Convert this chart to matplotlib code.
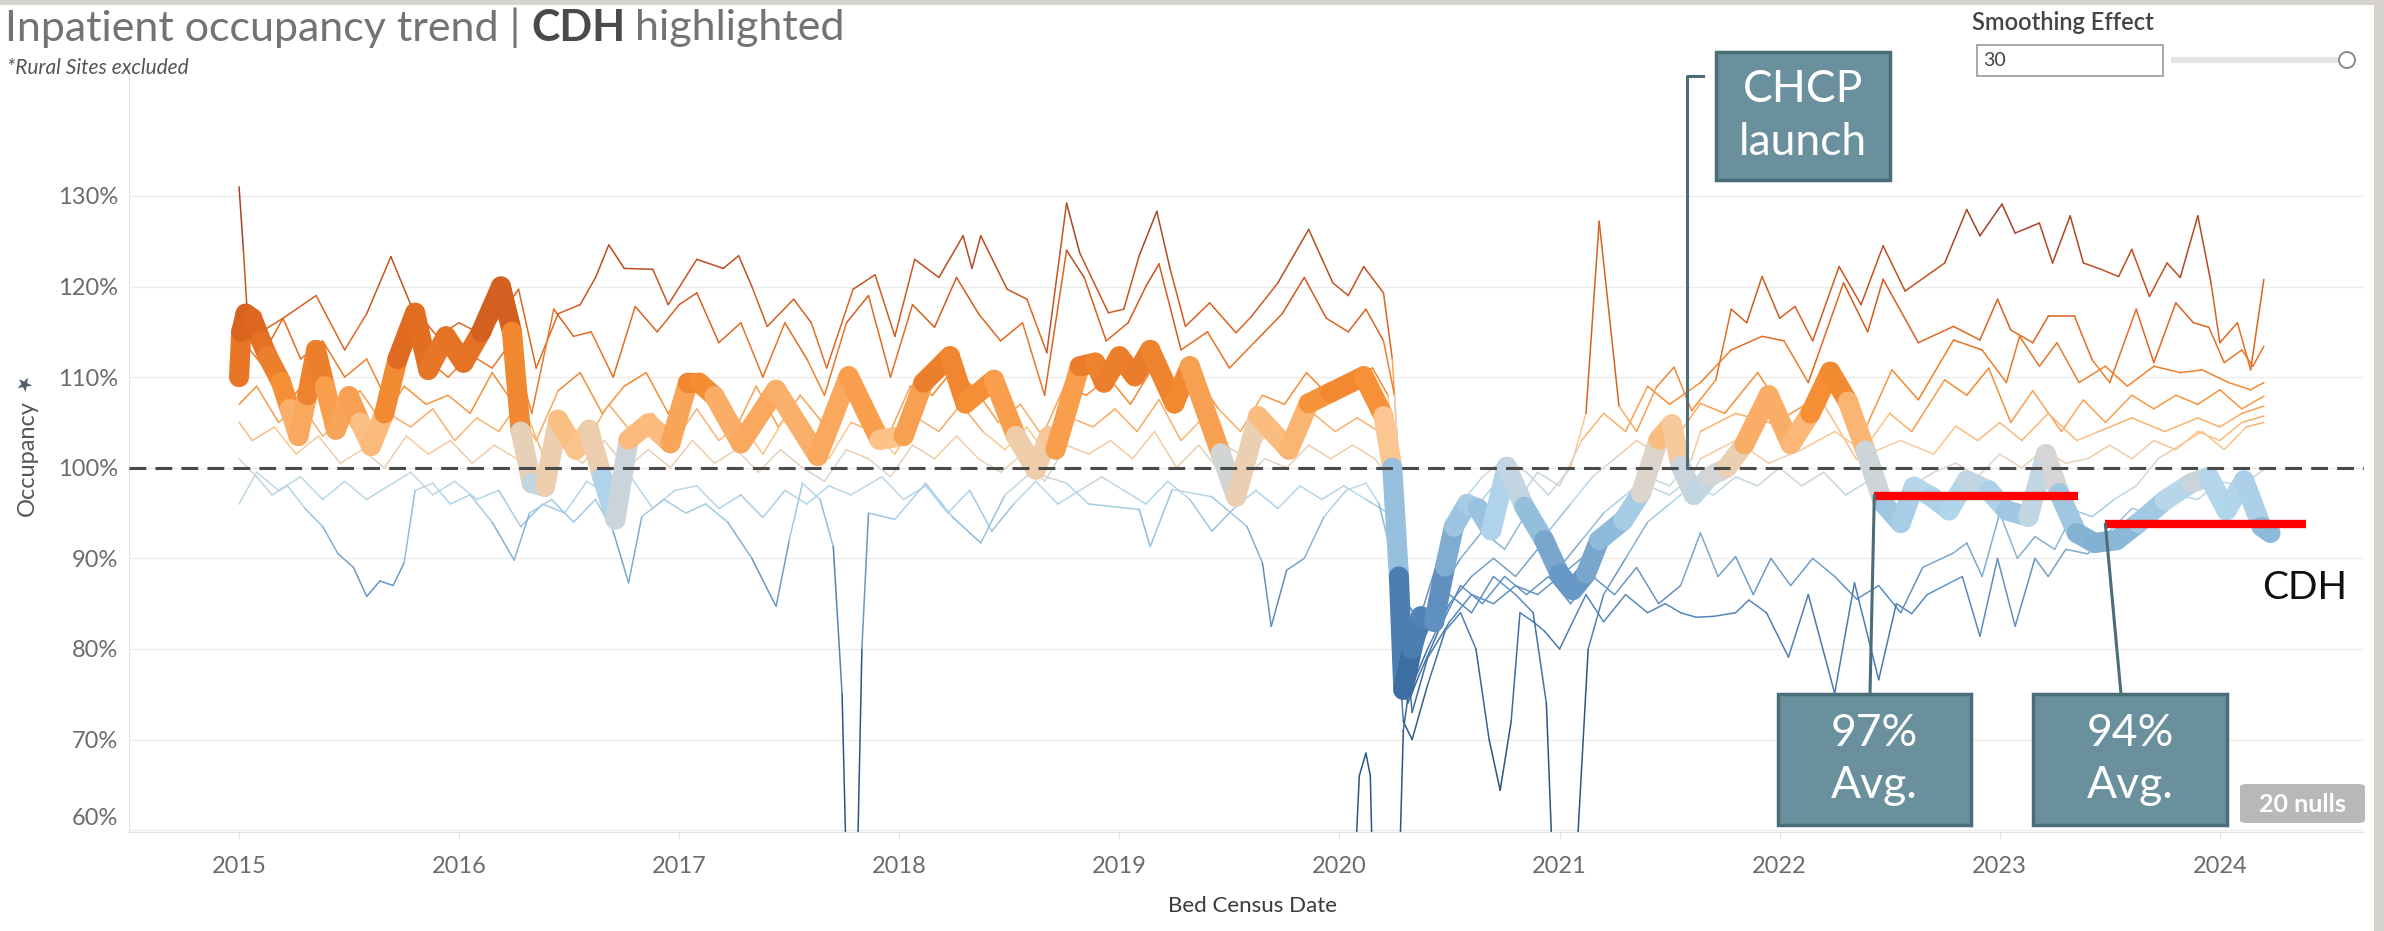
import numpy as np
import matplotlib
matplotlib.use("Agg")
import matplotlib.pyplot as plt
from matplotlib.collections import LineCollection
from matplotlib.colors import LinearSegmentedColormap, Normalize
from matplotlib.patches import Rectangle, FancyBboxPatch, Circle
from matplotlib.lines import Line2D
from matplotlib.transforms import IdentityTransform, ScaledTranslation
from matplotlib import font_manager

# --- data (decimal year, occupancy %) ---
CDH = [(2015.00, 110), (2015.01, 115), (2015.03, 117), (2015.06, 116.5), (2015.10, 114),
       (2015.13, 112.3), (2015.19, 109.5), (2015.23, 106.5), (2015.27, 103.5), (2015.31, 108),
       (2015.35, 113), (2015.39, 109), (2015.44, 104.2), (2015.50, 107.9), (2015.55, 105),
       (2015.60, 102.4), (2015.66, 106), (2015.72, 112), (2015.80, 117.1), (2015.86, 110.8),
       (2015.94, 114.5), (2016.02, 111.6), (2016.10, 115), (2016.19, 120), (2016.24, 115),
       (2016.28, 104), (2016.33, 98.3), (2016.39, 97.9), (2016.45, 105.3), (2016.53, 102),
       (2016.59, 104.2), (2016.65, 99), (2016.71, 94.3), (2016.77, 103.1), (2016.86, 104.9),
       (2016.96, 102.7), (2017.04, 109.4), (2017.09, 109.4), (2017.16, 107.9), (2017.28, 102.7),
       (2017.44, 108.6), (2017.63, 101.3), (2017.77, 110.1), (2017.91, 103.1), (2018.02, 103.5),
       (2018.11, 109.4), (2018.23, 112.3), (2018.30, 107.1), (2018.43, 109.7), (2018.53, 103.5),
       (2018.62, 99.8), (2018.68, 103.5), (2018.71, 102), (2018.82, 111.2), (2018.89, 111.6),
       (2018.93, 109.4), (2019.00, 112.3), (2019.07, 110.1), (2019.14, 113), (2019.25, 107.1),
       (2019.32, 111.2), (2019.46, 101.6), (2019.53, 96.8), (2019.63, 105.7), (2019.77, 102),
       (2019.86, 107.1), (2019.96, 108.3), (2020.11, 110.1), (2020.20, 105.7), (2020.24, 100),
       (2020.27, 88), (2020.29, 75.5), (2020.33, 80), (2020.37, 83.6), (2020.43, 83),
       (2020.48, 89.1), (2020.52, 93.5), (2020.58, 96), (2020.63, 95.5), (2020.69, 93.1),
       (2020.76, 100.1), (2020.84, 95.7), (2020.93, 92), (2021.00, 88.3), (2021.06, 86.5),
       (2021.12, 88.3), (2021.18, 92), (2021.29, 94.2), (2021.37, 97.2), (2021.45, 103.1),
       (2021.51, 104.8), (2021.55, 100.2), (2021.61, 97), (2021.68, 99), (2021.76, 100),
       (2021.84, 102.6), (2021.95, 108), (2022.05, 102.6), (2022.14, 106), (2022.23, 110.6),
       (2022.31, 107.3), (2022.39, 101.9), (2022.47, 96.1), (2022.55, 93.9), (2022.61, 97.9),
       (2022.69, 96.8), (2022.77, 95.3), (2022.85, 98.6), (2022.95, 97.5), (2023.03, 95.3),
       (2023.13, 94.6), (2023.21, 101.5), (2023.27, 97.2), (2023.35, 92.8), (2023.43, 91.7),
       (2023.53, 92), (2023.63, 93.9), (2023.75, 96.4), (2023.87, 98.3), (2023.95, 99),
       (2024.03, 95.3), (2024.11, 98.6), (2024.19, 93.5), (2024.23, 92.8)]

SITE_1 = [(2015.00, 131), (2015.02, 124), (2015.04, 116), (2015.10, 115), (2015.20, 116.5),
          (2015.35, 119), (2015.48, 113), (2015.58, 117), (2015.69, 123.3), (2015.78, 118),
          (2015.90, 114.5), (2016.00, 116), (2016.12, 114.5), (2016.27, 119.7), (2016.35, 111),
          (2016.45, 117), (2016.55, 118), (2016.62, 121), (2016.68, 124.6), (2016.75, 122),
          (2016.88, 121.9), (2016.95, 118), (2017.08, 123), (2017.20, 122), (2017.27, 123.4),
          (2017.33, 120), (2017.40, 115.6), (2017.52, 118.6), (2017.60, 116), (2017.67, 111),
          (2017.79, 119.7), (2017.89, 121.3), (2017.98, 114.5), (2018.07, 123), (2018.18, 121),
          (2018.29, 125.6), (2018.33, 122), (2018.37, 125.6), (2018.49, 119.7), (2018.58, 118.6),
          (2018.67, 112.7), (2018.76, 129.2), (2018.82, 123.7), (2018.95, 117.1), (2019.02, 117.5),
          (2019.09, 123.4), (2019.17, 128.3), (2019.23, 122), (2019.30, 115.6), (2019.41, 118.2),
          (2019.53, 114.9), (2019.60, 116.7), (2019.72, 120.4), (2019.86, 126.3), (2019.97, 120.4),
          (2020.04, 119), (2020.11, 122.2), (2020.20, 119.3), (2020.24, 112), (2020.27, 100),
          (2020.31, 85), (2020.36, 83), (2020.45, 90), (2020.55, 96), (2020.65, 99),
          (2020.75, 101), (2020.85, 99.5), (2020.95, 97), (2021.05, 100), (2021.12, 106),
          (2021.18, 127.2), (2021.27, 106.8), (2021.35, 104), (2021.44, 108.9), (2021.52, 111.1),
          (2021.60, 106.3), (2021.71, 109.7), (2021.78, 117.5), (2021.85, 116), (2021.92, 121.1),
          (2022.00, 116.5), (2022.07, 117.8), (2022.15, 114), (2022.27, 122.2), (2022.37, 118),
          (2022.47, 124.5), (2022.57, 119.5), (2022.75, 122.6), (2022.85, 128.5), (2022.91, 125.6),
          (2023.01, 129.1), (2023.07, 125.9), (2023.18, 127), (2023.24, 122.6), (2023.32, 127.8),
          (2023.38, 122.6), (2023.46, 121.9), (2023.54, 121.1), (2023.60, 124.1), (2023.68, 118.9),
          (2023.76, 122.6), (2023.82, 121), (2023.90, 127.8), (2023.96, 120.4), (2024.00, 113.8),
          (2024.08, 116), (2024.14, 110.8), (2024.20, 120.8)]

SITE_2 = [(2015.00, 113), (2015.06, 117), (2015.12, 113), (2015.20, 116.5), (2015.28, 112),
          (2015.38, 114), (2015.48, 110), (2015.58, 112), (2015.66, 108), (2015.75, 116),
          (2015.85, 112), (2015.95, 110), (2016.05, 112.5), (2016.15, 111), (2016.24, 114),
          (2016.33, 106), (2016.43, 117.5), (2016.52, 114.5), (2016.60, 115), (2016.70, 110),
          (2016.80, 117.8), (2016.90, 115), (2017.00, 118), (2017.08, 119.3), (2017.18, 113.8),
          (2017.28, 116), (2017.38, 110), (2017.48, 116), (2017.58, 112), (2017.66, 108),
          (2017.76, 116), (2017.86, 119), (2017.96, 110), (2018.06, 118), (2018.16, 115.5),
          (2018.26, 121), (2018.36, 117), (2018.46, 114), (2018.56, 116), (2018.66, 108),
          (2018.76, 124), (2018.84, 121), (2018.94, 114), (2019.04, 116), (2019.12, 120),
          (2019.18, 122.5), (2019.28, 113), (2019.40, 115), (2019.50, 111), (2019.62, 114),
          (2019.74, 117), (2019.84, 121), (2019.94, 116.5), (2020.04, 115), (2020.12, 117.5),
          (2020.20, 114), (2020.25, 108), (2020.29, 92), (2020.33, 80), (2020.40, 84),
          (2020.50, 92), (2020.60, 95), (2020.70, 98), (2020.80, 96), (2020.90, 99.5),
          (2021.00, 98), (2021.10, 103), (2021.20, 106), (2021.30, 104), (2021.40, 109),
          (2021.50, 107), (2021.64, 109.4), (2021.78, 113), (2021.92, 114.5), (2022.02, 114),
          (2022.13, 109.4), (2022.29, 120.4), (2022.40, 115), (2022.47, 120.8), (2022.63, 113.8),
          (2022.79, 115.6), (2022.91, 114.1), (2022.99, 118.6), (2023.05, 115.2), (2023.15, 113.8),
          (2023.22, 116.7), (2023.34, 116.7), (2023.42, 111.9), (2023.50, 109.4), (2023.62, 117.5),
          (2023.70, 111.6), (2023.80, 118.2), (2023.88, 116), (2023.95, 115.5), (2024.02, 111.6),
          (2024.10, 113), (2024.15, 111.2), (2024.20, 113.4)]

SITE_3 = [(2015.00, 110), (2015.05, 113), (2015.15, 110), (2015.25, 108), (2015.35, 111),
          (2015.45, 106), (2015.55, 108.5), (2015.65, 105), (2015.75, 109), (2015.85, 107),
          (2015.95, 108), (2016.05, 106), (2016.15, 110.5), (2016.25, 107), (2016.35, 103),
          (2016.45, 108.5), (2016.55, 110.5), (2016.65, 106), (2016.75, 109), (2016.85, 110.5),
          (2016.95, 106), (2017.05, 110), (2017.15, 107), (2017.25, 104), (2017.35, 109),
          (2017.45, 104.5), (2017.55, 108), (2017.65, 105), (2017.75, 109), (2017.85, 107),
          (2017.95, 103.5), (2018.05, 109), (2018.15, 108), (2018.25, 111), (2018.35, 108.5),
          (2018.45, 105), (2018.55, 107), (2018.65, 103.5), (2018.75, 109), (2018.85, 108),
          (2018.95, 110), (2019.05, 107), (2019.15, 111), (2019.25, 106), (2019.35, 110),
          (2019.45, 106.5), (2019.55, 104), (2019.65, 108), (2019.75, 107), (2019.85, 110.5),
          (2019.95, 108), (2020.05, 110), (2020.15, 111), (2020.22, 108), (2020.27, 96),
          (2020.31, 78), (2020.36, 80), (2020.45, 86), (2020.55, 90), (2020.65, 93),
          (2020.75, 91), (2020.85, 95), (2020.95, 93), (2021.05, 96), (2021.15, 99),
          (2021.25, 101), (2021.35, 103), (2021.45, 101.5), (2021.55, 104), (2021.64, 107.1),
          (2021.75, 106), (2021.90, 110.5), (2022.03, 105.7), (2022.23, 108.6), (2022.38, 103.8),
          (2022.51, 110.8), (2022.63, 107.5), (2022.79, 114.1), (2022.92, 113), (2023.03, 109.4),
          (2023.09, 114.5), (2023.18, 111.2), (2023.26, 113.8), (2023.36, 109.4), (2023.48, 111.2),
          (2023.58, 109), (2023.70, 111.2), (2023.82, 110.5), (2023.92, 110.8), (2024.04, 109.4),
          (2024.14, 108.6), (2024.20, 109.4)]

SITE_4 = [(2015.00, 107), (2015.08, 109), (2015.18, 105), (2015.28, 107), (2015.38, 103.5),
          (2015.48, 105.5), (2015.58, 102.5), (2015.68, 106), (2015.78, 104.5), (2015.88, 106.5),
          (2015.98, 103), (2016.08, 105.5), (2016.18, 104), (2016.28, 107.5), (2016.38, 101.5),
          (2016.48, 104.5), (2016.58, 103), (2016.68, 107), (2016.78, 104), (2016.88, 106),
          (2016.98, 103), (2017.08, 106.5), (2017.18, 103), (2017.28, 105), (2017.38, 101.5),
          (2017.48, 105.5), (2017.58, 103), (2017.68, 101), (2017.78, 105), (2017.88, 104),
          (2017.98, 101.5), (2018.08, 105.5), (2018.18, 104), (2018.28, 107), (2018.38, 104),
          (2018.48, 102), (2018.58, 104.5), (2018.68, 101), (2018.78, 105.5), (2018.88, 104.5),
          (2018.98, 106.5), (2019.08, 104), (2019.18, 107.5), (2019.28, 103), (2019.38, 105.5),
          (2019.48, 102.5), (2019.58, 101), (2019.68, 104), (2019.78, 103), (2019.88, 106),
          (2019.98, 104), (2020.08, 105.5), (2020.18, 104), (2020.24, 101), (2020.29, 88),
          (2020.33, 76), (2020.40, 80), (2020.50, 85), (2020.60, 88), (2020.70, 90),
          (2020.80, 88), (2020.90, 91), (2021.00, 89), (2021.10, 92), (2021.20, 95),
          (2021.30, 97), (2021.40, 99), (2021.50, 98), (2021.60, 101), (2021.64, 104),
          (2021.80, 106), (2021.95, 105), (2022.05, 104), (2022.20, 107), (2022.35, 100.9),
          (2022.50, 106), (2022.60, 104), (2022.75, 109.7), (2022.85, 108), (2022.95, 111),
          (2023.05, 105), (2023.15, 108.5), (2023.28, 104), (2023.38, 107.5), (2023.48, 105),
          (2023.60, 108), (2023.70, 106.5), (2023.80, 108), (2023.90, 107), (2024.00, 108.6),
          (2024.10, 106.5), (2024.20, 107.9)]

SITE_5 = [(2015.00, 105), (2015.06, 103), (2015.16, 104.5), (2015.26, 101.5), (2015.36, 103.5),
          (2015.46, 100.5), (2015.56, 102), (2015.66, 100), (2015.76, 103.5), (2015.86, 101.5),
          (2015.96, 103), (2016.06, 100.5), (2016.16, 102.5), (2016.26, 101), (2016.36, 99),
          (2016.46, 102.5), (2016.56, 100.5), (2016.66, 103), (2016.76, 100), (2016.86, 102),
          (2016.96, 100), (2017.06, 103), (2017.16, 100.5), (2017.26, 102), (2017.36, 99.5),
          (2017.46, 102), (2017.56, 100), (2017.66, 98.5), (2017.76, 102), (2017.86, 101),
          (2017.96, 99), (2018.06, 102.5), (2018.16, 101), (2018.26, 103.5), (2018.36, 101),
          (2018.46, 99.5), (2018.56, 101.5), (2018.66, 98.5), (2018.76, 102.5), (2018.86, 101.5),
          (2018.96, 103), (2019.06, 101), (2019.16, 104), (2019.26, 100), (2019.36, 102.5),
          (2019.46, 99.5), (2019.56, 98.5), (2019.66, 101), (2019.76, 100), (2019.86, 102.5),
          (2019.96, 101), (2020.06, 102.5), (2020.16, 101), (2020.22, 99), (2020.28, 86),
          (2020.33, 73), (2020.40, 79), (2020.50, 83), (2020.60, 86), (2020.70, 85),
          (2020.80, 87), (2020.90, 86), (2021.00, 88), (2021.10, 90), (2021.20, 93),
          (2021.30, 96), (2021.40, 98), (2021.50, 97), (2021.60, 99), (2021.64, 101),
          (2021.80, 103), (2021.95, 100.5), (2022.10, 102), (2022.25, 104), (2022.40, 101.5),
          (2022.55, 103), (2022.70, 101.5), (2022.80, 104.6), (2022.90, 103), (2023.00, 105),
          (2023.10, 103), (2023.22, 106), (2023.35, 103), (2023.45, 104), (2023.60, 105.5),
          (2023.75, 104), (2023.90, 105.5), (2024.00, 104.5), (2024.10, 106), (2024.20, 106.8)]

SITE_6 = [(2015.00, 96), (2015.08, 99.5), (2015.18, 97.5), (2015.28, 99), (2015.38, 96.5),
          (2015.48, 98.5), (2015.58, 96.5), (2015.68, 98), (2015.78, 99.5), (2015.88, 97),
          (2015.98, 98.5), (2016.08, 96.5), (2016.18, 97.5), (2016.28, 93.5), (2016.38, 96),
          (2016.48, 95), (2016.58, 98.5), (2016.68, 97), (2016.78, 99), (2016.88, 95.5),
          (2016.98, 97.5), (2017.08, 98), (2017.18, 95.5), (2017.28, 97), (2017.38, 94.5),
          (2017.48, 97.5), (2017.58, 96), (2017.68, 98), (2017.78, 97), (2017.92, 99),
          (2018.02, 96.5), (2018.12, 98), (2018.22, 95), (2018.32, 97.5), (2018.42, 93),
          (2018.52, 96), (2018.62, 98.5), (2018.72, 96), (2018.82, 97.5), (2018.92, 99),
          (2019.02, 97.5), (2019.12, 96), (2019.22, 98.5), (2019.32, 96.5), (2019.42, 93),
          (2019.52, 95.5), (2019.62, 97.5), (2019.72, 95.5), (2019.82, 98), (2019.92, 96.5),
          (2020.02, 98), (2020.12, 96.5), (2020.22, 95), (2020.27, 85), (2020.31, 74),
          (2020.36, 77), (2020.45, 82), (2020.55, 87), (2020.65, 85), (2020.75, 88),
          (2020.85, 86), (2020.95, 88), (2021.05, 85), (2021.15, 88), (2021.25, 86),
          (2021.35, 89), (2021.45, 85), (2021.55, 87), (2021.64, 92.8), (2021.72, 88),
          (2021.80, 90.2), (2021.88, 86), (2021.96, 90), (2022.05, 87), (2022.15, 90),
          (2022.25, 88), (2022.35, 85.5), (2022.45, 87), (2022.55, 84), (2022.65, 89),
          (2022.79, 90.6), (2022.85, 91.7), (2022.92, 88), (2023.00, 95), (2023.08, 90),
          (2023.16, 92.4), (2023.25, 91), (2023.34, 95.3), (2023.42, 94.6), (2023.52, 96.5),
          (2023.62, 98), (2023.72, 101), (2023.82, 102.5), (2023.92, 104), (2024.02, 102),
          (2024.12, 104.5), (2024.20, 105)]

SITE_7 = [(2015.00, 101), (2015.08, 99), (2015.15, 97), (2015.22, 98), (2015.30, 95.5),
          (2015.38, 93.5), (2015.45, 90.5), (2015.52, 89), (2015.58, 85.8), (2015.64, 87.5),
          (2015.70, 87), (2015.75, 89.5), (2015.80, 97.5), (2015.88, 98.3), (2015.96, 96),
          (2016.05, 97), (2016.15, 94), (2016.25, 89.8), (2016.32, 95), (2016.42, 96.5),
          (2016.52, 94), (2016.62, 96.5), (2016.70, 93), (2016.77, 87.3), (2016.83, 94.6),
          (2016.93, 96.5), (2017.03, 95), (2017.12, 96), (2017.22, 94), (2017.33, 90),
          (2017.44, 84.7), (2017.50, 92), (2017.56, 98.3), (2017.64, 96.5), (2017.70, 91.3),
          (2017.74, 75), (2017.77, 45), (2017.80, 45), (2017.83, 80), (2017.86, 95),
          (2017.98, 94.3), (2018.12, 98.3), (2018.24, 94.6), (2018.37, 91.7), (2018.48, 97),
          (2018.60, 99.5), (2018.76, 98.3), (2018.86, 96), (2019.09, 95.4), (2019.14, 91.3),
          (2019.24, 97.6), (2019.42, 96.8), (2019.58, 93.5), (2019.65, 89.5), (2019.69, 82.5),
          (2019.76, 88.7), (2019.84, 90), (2019.93, 94.6), (2020.03, 97.5), (2020.12, 98.3),
          (2020.18, 96), (2020.24, 90), (2020.29, 72), (2020.33, 70), (2020.40, 76),
          (2020.48, 82), (2020.55, 84), (2020.62, 80), (2020.68, 70), (2020.73, 64.4),
          (2020.78, 72), (2020.82, 84), (2020.88, 83), (2020.93, 82), (2021.00, 80),
          (2021.06, 83), (2021.12, 86), (2021.20, 83), (2021.30, 86), (2021.40, 84),
          (2021.48, 85), (2021.55, 84), (2021.62, 83.5), (2021.70, 83.6), (2021.80, 84),
          (2021.86, 85.4), (2021.94, 84), (2022.04, 79.1), (2022.13, 86), (2022.25, 75.1),
          (2022.34, 87.3), (2022.45, 76.6), (2022.53, 85), (2022.60, 83.9), (2022.67, 86),
          (2022.75, 87), (2022.83, 88), (2022.91, 81.4), (2022.99, 90), (2023.07, 82.5),
          (2023.16, 90), (2023.22, 88), (2023.30, 91), (2023.40, 90.5), (2023.50, 93),
          (2023.60, 95.5), (2023.70, 95), (2023.80, 97), (2023.90, 96.5), (2024.00, 98.5),
          (2024.10, 98), (2024.20, 99.8)]

SITE_8 = [(2020.05, 45), (2020.09, 66), (2020.12, 68.5), (2020.14, 66), (2020.16, 45),
          (2020.26, 45), (2020.29, 71), (2020.33, 78), (2020.40, 82), (2020.50, 86),
          (2020.60, 84), (2020.70, 88), (2020.80, 86), (2020.88, 84), (2020.94, 74),
          (2020.97, 55), (2021.00, 40), (2021.05, 40), (2021.08, 58), (2021.13, 80),
          (2021.20, 86), (2021.30, 90), (2021.40, 94), (2021.50, 96), (2021.60, 98),
          (2021.70, 97), (2021.80, 99), (2021.90, 98), (2022.00, 100), (2022.10, 98),
          (2022.20, 99.5), (2022.30, 97), (2022.40, 98.5), (2022.50, 96.5), (2022.60, 98),
          (2022.70, 99.5), (2022.80, 100.5), (2022.90, 99), (2023.00, 101.5), (2023.10, 100),
          (2023.20, 102), (2023.30, 100.5), (2023.40, 101), (2023.50, 102.5), (2023.60, 101),
          (2023.70, 103), (2023.80, 102), (2023.90, 104), (2024.00, 103), (2024.10, 105),
          (2024.20, 105.7)]

OTHER_SITES = [SITE_1, SITE_2, SITE_3, SITE_4, SITE_5, SITE_6, SITE_7, SITE_8]

YEARS = [2015, 2016, 2017, 2018, 2019, 2020, 2021, 2022, 2023, 2024]
Y_TICKS = [60, 70, 80, 90, 100, 110, 120, 130]
TARGET = 100
CHCP_LAUNCH = 2021.58
AVG_START = [2022.43, 2023.48]
AVG_END = [2023.355, 2024.39]
AVG_VALUE = [96.9, 93.75]
AVG_LABELS = ["97%\nAvg.", "94%\nAvg."]

# --- figure ---
W, H = 2384, 931
names = {f.name for f in font_manager.fontManager.ttflist}
TAB = "Lato" if "Lato" in names else "DejaVu Sans"
NARROW = "Liberation Sans Narrow" if "Liberation Sans Narrow" in names else TAB


def fx(x):
    return x / W


def fy(y):
    return 1 - y / H


fig = plt.figure(figsize=(W / 100, H / 100), dpi=100)
fig.patch.set_facecolor("white")
ax = fig.add_axes([fx(129), fy(832), (2364 - 129) / W, (832 - 60) / H])
ax.set_xlim(2014.5, 2024.655)
ax.set_ylim(59.8, 145)

cmap = LinearSegmentedColormap.from_list("orange_blue", [
    (0.0, "#2a5783"), (0.133, "#3d6fa3"), (0.25, "#5a8abd"), (0.367, "#84b2d4"),
    (0.45, "#b3d6ec"), (0.5, "#dcd5ce"), (0.55, "#fcc690"), (0.633, "#f69035"),
    (0.75, "#df681f"), (0.867, "#bf4f22"), (1.0, "#9a3c22")])
norm = Normalize(70, 130)


def colored_line(points, lw, z):
    pts = np.array(points, dtype=float)
    segs = np.stack([pts[:-1], pts[1:]], axis=1)
    mid = (pts[:-1, 1] + pts[1:, 1]) / 2
    lc = LineCollection(segs, colors=cmap(norm(mid)), linewidths=lw,
                        capstyle="round", joinstyle="round", zorder=z)
    ax.add_collection(lc)


for site in OTHER_SITES:
    colored_line(site, 1.1, 2)
colored_line(CDH, 14.5, 4)

ax.axhline(TARGET, color="#4a4a4a", lw=2.2, dashes=(5.5, 3), zorder=5)
ax.hlines(AVG_VALUE, AVG_START, AVG_END, color="#ff0000", lw=6, zorder=6)

# axes styling
ax.set_yticks(Y_TICKS)
ax.set_yticklabels([f"{v}%" for v in Y_TICKS])
ax.set_xticks(YEARS)
ax.set_xticklabels([str(y) for y in YEARS])
ax.grid(axis="y", color="#ededed", lw=1)
ax.set_axisbelow(True)
for s in ["top", "right"]:
    ax.spines[s].set_visible(False)
ax.spines["left"].set_color("#e3e3e3")
ax.spines["bottom"].set_color("#e3e3e3")
ax.tick_params(axis="y", length=0, pad=8, labelsize=17, labelcolor="#6b6b6b")
ax.tick_params(axis="x", length=5, color="#e3e3e3", pad=12, labelsize=17,
               labelcolor="#6b6b6b")
for lab in ax.get_xticklabels() + ax.get_yticklabels():
    lab.set_family(TAB)
# the bottom label sits inside the pane, as in the dashboard
low = ax.get_yticklabels()[0]
low.set_transform(low.get_transform() + ScaledTranslation(0, 14 / 100, fig.dpi_scale_trans))

# --- text ---
fig.text(fx(1252), fy(906), "Bed Census Date", ha="center", va="center",
         fontsize=16, color="#3a3a3a", family=TAB)
fig.text(fx(27), fy(458), "Occupancy", rotation=90, ha="center", va="center",
         fontsize=17, color="#555555", family=TAB)
fig.text(fx(25), fy(384), "\u2605", rotation=45, ha="center", va="center",
         fontsize=14, color="#4d5a66", family="DejaVu Sans")

t1 = fig.text(fx(5), fy(28), "Inpatient occupancy trend |", ha="left", va="center",
              fontsize=31, color="#737373", family=NARROW)
fig.canvas.draw()
r = fig.canvas.get_renderer()
x_next = t1.get_window_extent(r).x1 + 11
t2 = fig.text(x_next / W, fy(28), "CDH", ha="left", va="center", fontsize=31,
              color="#4a4a4a", family=NARROW, fontweight="bold")
fig.canvas.draw()
x_next = t2.get_window_extent(r).x1 + 9
fig.text(x_next / W, fy(28), "highlighted", ha="left", va="center", fontsize=31,
         color="#737373", family=NARROW)
fig.text(fx(7), fy(68), "*Rural Sites excluded", ha="left", va="center",
         fontsize=15, color="#555555", style="italic", family=NARROW)

# smoothing widget
fig.text(fx(1972), fy(22), "Smoothing Effect", ha="left", va="center",
         fontsize=17, color="#444444", family=TAB, fontweight="semibold")
fig.add_artist(Rectangle((fx(1977), fy(76)), 186 / W, 31 / H, transform=fig.transFigure,
                         facecolor="white", edgecolor="#9a9a9a", lw=1.2))
fig.text(fx(1983), fy(61), "30", ha="left", va="center", fontsize=14,
         color="#444444", family=TAB)
fig.add_artist(Line2D([fx(2171), fx(2338)], [fy(60), fy(60)], transform=fig.transFigure,
                      color="#e4e4e4", lw=4.5, solid_capstyle="butt"))
fig.add_artist(Circle((2347, H - 60), 8, transform=IdentityTransform(),
                      facecolor="white", edgecolor="#8a8a8a", lw=1.4))

BOX_FACE = "#69909c"
BOX_EDGE = "#4b6d78"


def box(x0, y0, x1, y1, text, size):
    fig.add_artist(Rectangle((fx(x0), fy(y1)), (x1 - x0) / W, (y1 - y0) / H,
                             transform=fig.transFigure, facecolor=BOX_FACE,
                             edgecolor=BOX_EDGE, lw=2.5, zorder=10))
    fig.text(fx((x0 + x1) / 2), fy((y0 + y1) / 2), text, ha="center", va="center",
             fontsize=size, color="white", family=TAB, linespacing=1.35, zorder=11)


def data_px(x, y):
    px, py = ax.transData.transform((x, y))
    return px, H - py


def leader(xs, ys):
    fig.add_artist(Line2D([fx(v) for v in xs], [fy(v) for v in ys],
                          transform=fig.transFigure, color=BOX_EDGE, lw=2.2, zorder=9))


box(1716, 52, 1890, 180, "CHCP\nlaunch", 32)
lx, ly = data_px(CHCP_LAUNCH, TARGET)
leader([1703, lx, lx], [76, 76, ly])

for i, (bx0, bx1) in enumerate([(1778, 1971), (2033, 2227)]):
    box(bx0, 694, bx1, 825, AVG_LABELS[i], 32)
    px, py = data_px(AVG_START[i], AVG_VALUE[i])
    top_x = 1870 if i == 0 else 2121
    leader([top_x, px], [694, py])

fig.text(fx(2305), fy(588), "CDH", ha="center", va="center", fontsize=28,
         color="#111111", family=TAB)

fig.add_artist(FancyBboxPatch((fx(2240), fy(823)), 125 / W, 39 / H,
                              boxstyle="round,pad=0,rounding_size=0.003",
                              transform=fig.transFigure, facecolor="#b8b8b8",
                              edgecolor="none", zorder=10))
fig.text(fx(2302), fy(804), "20 nulls", ha="center", va="center", fontsize=18,
         color="white", family=TAB, fontweight="bold", zorder=11)

# dashboard frame strips
fig.add_artist(Rectangle((0, fy(5)), 1, 5 / H, transform=fig.transFigure,
                         facecolor="#d6d3cf", edgecolor="none"))
fig.add_artist(Rectangle((fx(2374), 0), 10 / W, 1, transform=fig.transFigure,
                         facecolor="#d6d3cf", edgecolor="none"))

fig.savefig("out.png", dpi=100)
